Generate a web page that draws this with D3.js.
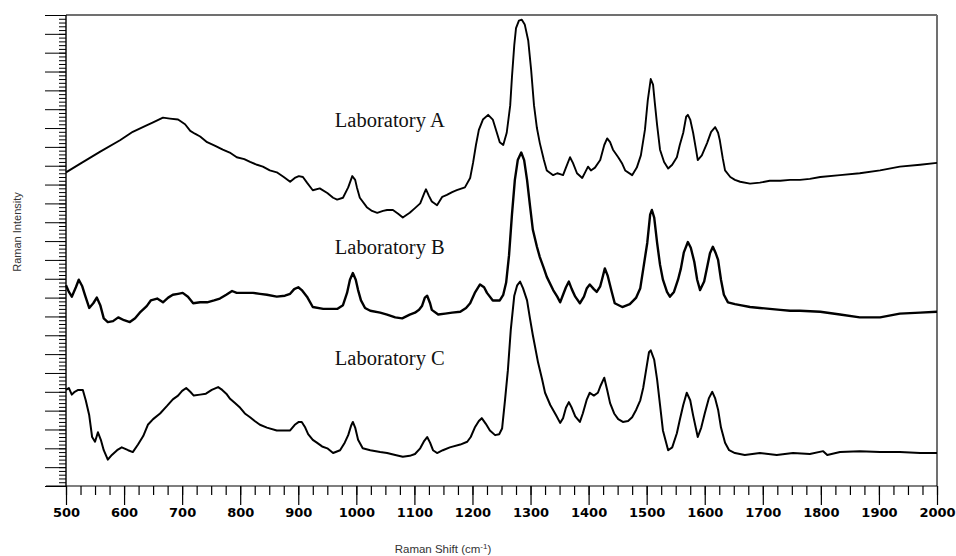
<!DOCTYPE html>
<html>
<head>
<meta charset="utf-8">
<script src="https://cdn.jsdelivr.net/npm/d3@7"></script>
<style>
  body { margin: 0; background: #fff; }
  svg { display: block; }
</style>
</head>
<body>
<svg id="chart" width="956" height="556"></svg>
<script>
// Raman spectra of the same sample recorded by three laboratories,
// offset vertically. Each point: [Raman shift (cm^-1), intensity (a.u.)].
const labA = [
  [500,333],[524,342],[559,355],[593,367],[615,376],[636,382],[650,386],[667,391],[679,390],[693,389],
  [705,384],[714,377],[722,374],[731,371],[743,365],[757,361],[770,357],[782,354],[794,349],[807,347],
  [817,344],[829,341],[839,339],[851,335],[863,333],[875,328],[886,323],[894,327],[901,329],[908,328],
  [915,322],[925,314],[937,316],[950,311],[960,306],[967,304],[977,306],[986,317],[993,329],[998,325],
  [1001,317],[1006,306],[1018,296],[1027,292],[1036,290],[1046,292],[1053,293],[1063,293],[1072,289],[1080,285],
  [1092,290],[1101,295],[1110,300],[1117,311],[1120,315],[1125,308],[1130,302],[1139,298],[1148,307],[1156,309],
  [1165,312],[1173,314],[1187,317],[1196,327],[1201,343],[1206,362],[1211,378],[1218,389],[1227,394],[1235,389],
  [1242,375],[1247,365],[1253,362],[1259,375],[1265,404],[1268,434],[1272,468],[1275,486],[1280,494],[1285,495],
  [1290,490],[1296,473],[1301,442],[1306,404],[1311,380],[1316,364],[1323,346],[1328,335],[1339,330],[1346,332],
  [1351,331],[1356,330],[1361,338],[1368,349],[1373,343],[1380,332],[1389,327],[1394,333],[1399,339],[1404,335],
  [1411,338],[1420,346],[1427,362],[1432,369],[1437,365],[1442,357],[1451,349],[1458,342],[1463,335],[1475,330],
  [1483,338],[1490,351],[1497,378],[1502,410],[1507,432],[1511,426],[1514,407],[1518,383],[1523,357],[1530,344],
  [1537,337],[1544,341],[1552,349],[1557,362],[1563,375],[1568,392],[1571,394],[1575,389],[1580,375],[1585,357],
  [1588,346],[1595,351],[1604,364],[1611,376],[1618,381],[1623,375],[1626,367],[1631,348],[1635,335],[1644,328],
  [1652,325],[1661,323],[1678,321],[1695,322],[1712,324],[1730,324],[1747,325],[1764,325],[1781,326],[1799,328],
  [1833,330],[1867,332],[1902,335],[1936,339],[1971,341],[2000,343]
];

const labB = [
  [500,213],[505,206],[510,201],[517,211],[522,219],[528,212],[533,202],[540,189],[547,194],[553,200],
  [559,192],[565,178],[572,174],[581,175],[590,179],[600,176],[610,174],[619,178],[627,184],[639,191],
  [646,197],[657,199],[667,195],[676,200],[684,203],[693,204],[701,205],[710,201],[719,194],[731,195],
  [743,195],[755,197],[765,199],[776,203],[786,207],[794,205],[808,205],[822,205],[834,204],[846,203],
  [863,201],[877,202],[886,204],[893,209],[900,211],[906,208],[915,201],[925,190],[943,188],[955,188],
  [967,188],[977,192],[984,205],[989,219],[994,226],[999,219],[1003,208],[1008,197],[1015,189],[1024,186],
  [1041,184],[1053,182],[1067,179],[1079,178],[1092,182],[1101,184],[1108,187],[1113,191],[1118,200],[1122,202],
  [1127,194],[1130,187],[1141,182],[1153,183],[1165,184],[1179,185],[1189,189],[1196,194],[1204,205],[1213,214],
  [1220,211],[1225,205],[1235,197],[1247,197],[1253,203],[1258,216],[1263,245],[1268,288],[1273,325],[1278,346],
  [1284,354],[1289,346],[1294,325],[1299,298],[1304,272],[1311,254],[1316,243],[1323,231],[1328,222],[1339,208],
  [1346,201],[1351,195],[1356,203],[1361,211],[1366,217],[1371,209],[1377,201],[1385,194],[1392,201],[1397,210],
  [1402,214],[1409,209],[1414,206],[1420,212],[1423,219],[1428,231],[1433,223],[1439,208],[1445,194],[1458,190],
  [1471,193],[1482,200],[1489,210],[1495,234],[1501,258],[1506,288],[1509,293],[1513,285],[1518,258],[1523,235],
  [1528,219],[1535,206],[1540,201],[1547,206],[1554,219],[1559,231],[1564,248],[1571,259],[1576,253],[1582,238],
  [1587,219],[1592,208],[1599,217],[1604,232],[1609,247],[1614,254],[1619,247],[1623,240],[1628,219],[1633,203],
  [1640,195],[1652,193],[1661,192],[1678,190],[1695,189],[1712,188],[1730,187],[1747,186],[1764,186],[1799,185],
  [1833,182],[1867,179],[1902,179],[1936,183],[1971,184],[2000,185]
];

const labC = [
  [500,102],[505,104],[510,97],[515,100],[521,102],[529,102],[534,91],[540,75],[545,52],[550,47],
  [555,57],[560,49],[565,38],[572,28],[579,33],[588,38],[596,41],[607,38],[615,36],[624,44],
  [633,53],[641,65],[650,71],[662,77],[674,85],[684,92],[693,96],[700,101],[707,104],[714,100],
  [720,96],[731,97],[741,98],[751,102],[762,105],[769,102],[776,98],[782,93],[791,88],[800,83],
  [808,77],[817,73],[825,69],[834,65],[846,62],[863,59],[877,59],[886,59],[894,65],[901,68],
  [906,68],[912,62],[917,55],[925,49],[932,46],[941,42],[950,40],[960,35],[972,38],[980,46],
  [986,54],[991,64],[994,68],[998,62],[1003,49],[1011,40],[1024,38],[1041,36],[1053,35],[1067,33],
  [1080,31],[1092,32],[1101,34],[1110,40],[1117,48],[1122,52],[1127,46],[1132,38],[1139,35],[1149,38],
  [1161,41],[1179,44],[1191,47],[1197,52],[1204,62],[1211,69],[1216,72],[1223,66],[1230,59],[1239,54],
  [1246,55],[1251,61],[1256,91],[1261,123],[1266,166],[1272,202],[1277,213],[1282,217],[1287,210],[1294,197],
  [1299,178],[1304,160],[1313,131],[1320,113],[1325,99],[1334,86],[1344,75],[1351,67],[1356,72],[1361,83],
  [1366,89],[1371,83],[1377,74],[1385,68],[1390,77],[1397,92],[1402,99],[1409,96],[1416,99],[1421,107],
  [1427,115],[1432,102],[1437,88],[1444,77],[1451,71],[1459,68],[1468,69],[1475,73],[1482,81],[1489,91],
  [1494,104],[1499,123],[1504,142],[1507,144],[1513,134],[1518,113],[1523,86],[1528,59],[1537,38],[1544,41],
  [1552,56],[1557,70],[1563,86],[1569,99],[1575,91],[1580,75],[1588,52],[1594,62],[1600,77],[1607,93],
  [1613,100],[1618,93],[1623,81],[1628,62],[1635,46],[1642,38],[1652,35],[1669,33],[1695,35],[1724,33],
  [1752,35],[1781,34],[1804,37],[1811,33],[1833,36],[1867,37],[1902,36],[1936,36],[1971,35],[2000,35]
];

const seriesNames = ["Laboratory A", "Laboratory B", "Laboratory C"];
const seriesData = [labA, labB, labC];
// Where each series name sits: [shift, intensity] at the text baseline start.
const labelAnchors = [[963, 381], [963, 246], [963, 128]];

const shiftTicks = d3.range(500, 2001, 100);
const shiftMinorTicks = d3.range(500, 2001, 25);
const intensityMajorTicks = d3.range(0, 501, 20);
const intensityMinorTicks = d3.range(0, 501, 4);

const W = 956, H = 556;
const margin = { top: 15, right: 19, bottom: 70, left: 66 };
const svg = d3.select("#chart");

const x = d3.scaleLinear().domain([500, 2000]).range([margin.left, W - margin.right]);
const y = d3.scaleLinear().domain([0, 500]).range([H - margin.bottom, margin.top]);

const x0 = x.range()[0], x1 = x.range()[1];
const y0 = y.range()[0], y1 = y.range()[1];

// frame: top and right sides in grey
svg.append("line").attr("x1", x0).attr("x2", x1).attr("y1", y1).attr("y2", y1)
  .attr("stroke", "#707070").attr("stroke-width", 2);
svg.append("line").attr("x1", x1).attr("x2", x1).attr("y1", y1).attr("y2", y0)
  .attr("stroke", "#707070").attr("stroke-width", 2);

// left intensity axis with dense unlabelled ticks
const yAxisMinor = d3.axisLeft(y).tickValues(intensityMinorTicks).tickSize(7).tickFormat("");
const yAxisMajor = d3.axisLeft(y).tickValues(intensityMajorTicks).tickSize(21).tickFormat("");
const gyMinor = svg.append("g").attr("transform", `translate(${x0},0)`).call(yAxisMinor);
const gyMajor = svg.append("g").attr("transform", `translate(${x0},0)`).call(yAxisMajor);
[gyMinor, gyMajor].forEach(g => {
  g.select(".domain").remove();
  g.selectAll("line").attr("stroke", "#000").attr("stroke-width", 1);
});
svg.append("line").attr("x1", x0).attr("x2", x0).attr("y1", y1).attr("y2", y0)
  .attr("stroke", "#000").attr("stroke-width", 1.4);

// bottom Raman shift axis
const xAxisMinor = d3.axisBottom(x).tickValues(shiftMinorTicks).tickSize(9).tickFormat("");
const xAxisMajor = d3.axisBottom(x).tickValues(shiftTicks).tickSize(19).tickPadding(3).tickFormat(d3.format("d"));
const gxMinor = svg.append("g").attr("transform", `translate(0,${y0})`).call(xAxisMinor);
const gxMajor = svg.append("g").attr("transform", `translate(0,${y0})`).call(xAxisMajor);
[gxMinor, gxMajor].forEach(g => {
  g.select(".domain").remove();
  g.selectAll("line").attr("stroke", "#000").attr("stroke-width", 1.2);
});
gxMajor.selectAll("text")
  .attr("y", 0).attr("dy", null)
  .attr("transform", "translate(0,31)")
  .attr("fill", "#000")
  .style("font-family", "'DejaVu Sans', sans-serif")
  .style("font-weight", "bold")
  .style("font-size", "13px");
svg.append("line").attr("x1", x0 - 20).attr("x2", x1).attr("y1", y0).attr("y2", y0)
  .attr("stroke", "#000").attr("stroke-width", 1.2);

// spectra
const line = d3.line().x(d => x(d[0])).y(d => y(d[1])).curve(d3.curveLinear);
const widths = [1.9, 2.4, 2.0];
svg.append("g").selectAll("path").data(seriesData).join("path")
  .attr("d", line)
  .attr("fill", "none")
  .attr("stroke", "#000")
  .attr("stroke-width", (d, i) => widths[i])
  .attr("stroke-linejoin", "round");

// series names
svg.append("g").selectAll("text").data(seriesNames).join("text")
  .attr("x", (d, i) => x(labelAnchors[i][0]))
  .attr("y", (d, i) => y(labelAnchors[i][1]))
  .attr("fill", "#111")
  .style("font-family", "'Liberation Serif', 'Times New Roman', serif")
  .style("font-size", "20.5px")
  .text(d => d);

// axis titles
const xt = svg.append("text")
  .attr("x", 443).attr("y", 553)
  .attr("text-anchor", "middle")
  .attr("fill", "#333")
  .style("font-family", "'Liberation Sans', Arial, sans-serif")
  .style("font-size", "11.5px");
xt.append("tspan").text("Raman Shift (cm");
xt.append("tspan").attr("dy", -4).style("font-size", "8px").text("-1");
xt.append("tspan").attr("dy", 4).text(")");

svg.append("text")
  .attr("transform", "translate(21,232) rotate(-90)")
  .attr("text-anchor", "middle")
  .attr("fill", "#333")
  .style("font-family", "'Liberation Sans', Arial, sans-serif")
  .style("font-size", "11px")
  .text("Raman Intensity");
</script>
</body>
</html>
